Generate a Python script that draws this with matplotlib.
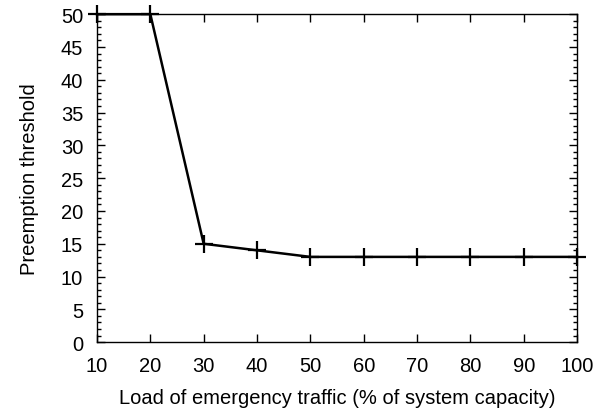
import matplotlib
matplotlib.use("Agg")
import matplotlib.pyplot as plt
from matplotlib.ticker import MultipleLocator

load = [10, 20, 30, 40, 50, 60, 70, 80, 90, 100]
threshold = [50, 50, 15, 14, 13, 13, 13, 13, 13, 13]

plt.rcParams['font.family'] = ['Liberation Sans', 'DejaVu Sans']

fig = plt.figure(figsize=(6.1, 4.1), dpi=100)
ax = fig.add_axes([0.159, 0.163, 0.787, 0.800])

ax.plot(load, threshold, color='black', lw=1.8, marker='+', markersize=13, markeredgewidth=1.6, clip_on=False)

ax.set_xlim(10, 100)
ax.set_ylim(0, 50)
ax.set_xticks(range(10, 101, 10))
ax.set_yticks(range(0, 51, 5))
ax.yaxis.set_minor_locator(MultipleLocator(1))
ax.tick_params(which='both', direction='in', top=True, right=True, labelsize=14.5)
ax.tick_params(axis='x', pad=10)
ax.tick_params(axis='y', pad=10)
ax.tick_params(which='major', length=6, width=1)
ax.tick_params(which='minor', length=3, width=1)
for s in ax.spines.values():
    s.set_linewidth(1)

ax.set_xlabel("Load of emergency traffic (% of system capacity)", fontsize=14.5, labelpad=9)
ax.set_ylabel("Preemption threshold", fontsize=14.5, labelpad=16)

fig.savefig("out.png", dpi=100)
